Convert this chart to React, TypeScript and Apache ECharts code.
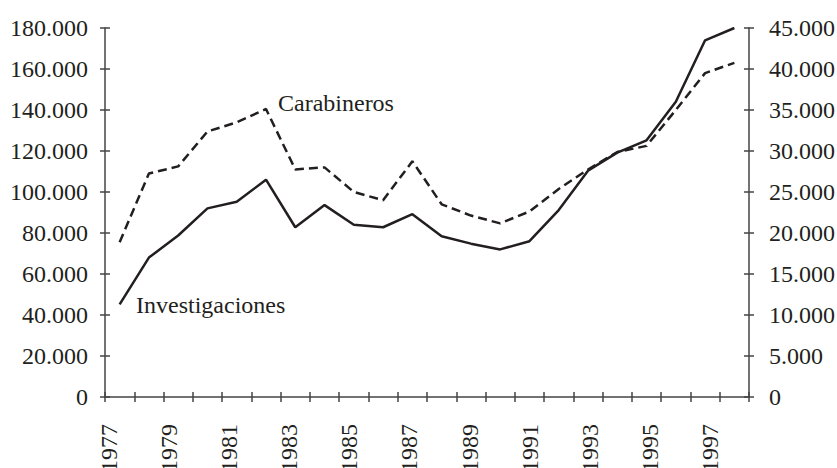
import React, { useEffect, useRef } from "react";
import * as echarts from "echarts";

const years = [
  "1977", "1978", "1979", "1980", "1981", "1982", "1983", "1984", "1985", "1986", "1987",
  "1988", "1989", "1990", "1991", "1992", "1993", "1994", "1995", "1996", "1997", "1998",
];
// Carabineros (dashed, left axis)
const carabineros = [
  75500, 109000, 112500, 129500, 134000, 140500, 111000, 112000, 100000, 96000, 115000,
  94000, 88500, 84700, 90500, 101500, 111000, 119500, 122500, 140000, 158000, 163000,
];
// Investigaciones (solid, right axis)
const investigaciones = [
  11300, 17000, 19700, 23000, 23800, 26500, 20700, 23400, 21000, 20700, 22300,
  19600, 18700, 18000, 19000, 22800, 27600, 29800, 31300, 36000, 43500, 45000,
];
const leftMax = 180000;
const leftStep = 20000;
const rightMax = 45000;
const rightStep = 5000;

const INK = "#231f20";
const AXIS = "#444444";
const FONT = "Liberation Serif";
const FS = 24;

const fmt = (v: number) => String(v).replace(/\B(?=(\d{3})+(?!\d))/g, ".");

export default function App() {
  const ref = useRef<HTMLDivElement>(null);
  useEffect(() => {
    if (!ref.current) return;
    const chart = echarts.init(ref.current, null, { renderer: "svg" });
    const yBase = (pos: "left" | "right", max: number, step: number, main: boolean) => ({
      type: "value",
      gridIndex: 0,
      position: pos,
      min: 0,
      max,
      interval: step,
      splitLine: { show: false },
      axisLine: { show: main, lineStyle: { color: AXIS, width: 1.5 } },
      axisTick: { show: true, inside: !main, length: 5, lineStyle: { color: AXIS, width: 1.5 } },
      axisLabel: {
        show: main,
        formatter: fmt,
        margin: pos === "left" ? 17 : 20,
        fontFamily: FONT,
        fontSize: FS,
        color: INK,
      },
    });
    const xBase = (main: boolean) => ({
      type: "category",
      gridIndex: 0,
      position: "bottom",
      data: years,
      boundaryGap: true,
      axisLine: { show: main, lineStyle: { color: AXIS, width: 1.5 } },
      axisTick: { show: true, inside: !main, interval: 0, length: 5, lineStyle: { color: AXIS, width: 1.5 } },
      axisLabel: { show: false },
    });
    chart.setOption({
      animation: false,
      backgroundColor: "#ffffff",
      grid: [
        { left: 105, right: 88, top: 28, bottom: 71, outerBoundsMode: "none", containLabel: false },
        { left: 94, right: 82, top: 28, bottom: 71, outerBoundsMode: "none", containLabel: false },
      ],
      xAxis: [
        xBase(true),
        xBase(false),
        {
          type: "category",
          gridIndex: 1,
          position: "bottom",
          data: years,
          boundaryGap: true,
          axisLine: { show: false },
          axisTick: { show: false },
          axisLabel: {
            show: true,
            interval: 1,
            rotate: 90,
            margin: 27,
            fontFamily: FONT,
            fontSize: FS,
            color: INK,
          },
        },
      ],
      yAxis: [
        yBase("left", leftMax, leftStep, true),
        yBase("right", rightMax, rightStep, true),
        yBase("left", leftMax, leftStep, false),
        yBase("right", rightMax, rightStep, false),
        { type: "value", gridIndex: 1, show: false, min: 0, max: 1 },
      ],
      series: [
        {
          name: "Carabineros",
          type: "line",
          data: carabineros,
          xAxisIndex: 0,
          yAxisIndex: 0,
          symbol: "none",
          lineStyle: { color: INK, width: 2.5, type: [9, 5] },
        },
        {
          name: "Investigaciones",
          type: "line",
          data: investigaciones,
          xAxisIndex: 0,
          yAxisIndex: 1,
          symbol: "none",
          lineStyle: { color: INK, width: 2.5 },
        },
      ],
      graphic: [
        {
          type: "text",
          x: 278,
          y: 103,
          style: { text: "Carabineros", fontFamily: FONT, fontSize: FS, fill: INK, verticalAlign: "middle" },
        },
        {
          type: "text",
          x: 136,
          y: 305,
          style: { text: "Investigaciones", fontFamily: FONT, fontSize: FS, fill: INK, verticalAlign: "middle" },
        },
      ],
    });
    return () => chart.dispose();
  }, []);
  return (
    <div
      ref={ref}
      style={{ position: "fixed", left: 0, top: 0, width: 837, height: 468, background: "#fff" }}
    />
  );
}
